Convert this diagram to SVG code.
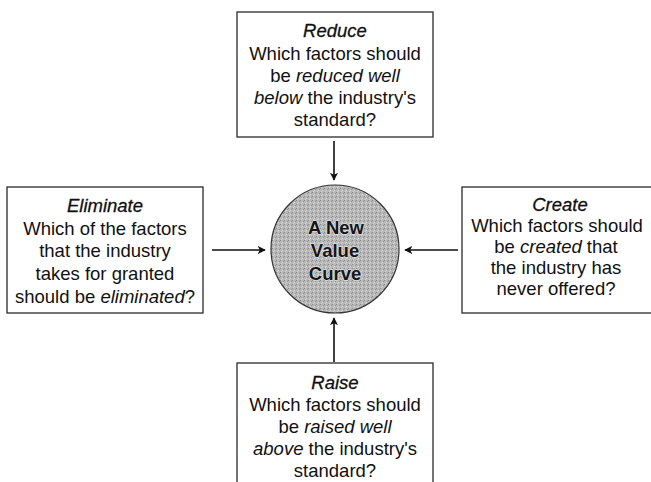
<svg xmlns="http://www.w3.org/2000/svg" width="651" height="482" viewBox="0 0 651 482">
  <style>
    .box { fill: #ffffff; stroke: #2a2a2a; stroke-width: 1.3; }
    .t { font-family: "Liberation Sans", Arial, sans-serif; font-size: 18.5px; fill: #111; text-anchor: middle; }
    .title { font-style: italic; stroke: #111; stroke-width: 0.3; }
    .i { font-style: italic; }
    .ct { font-family: "Liberation Sans", Arial, sans-serif; font-size: 18.5px; font-weight: bold; fill: #151515; text-anchor: middle; stroke: #dcdcdc; stroke-width: 1.6; paint-order: stroke; stroke-linejoin: round; }
    .conn { stroke: #111; stroke-width: 1.6; fill: none; marker-end: url(#ah); }
  </style>
  <defs>
    <marker id="ah" viewBox="0 0 10 10" refX="9" refY="5" markerWidth="8" markerHeight="8" markerUnits="userSpaceOnUse" orient="auto">
      <path d="M0,0 L10,5 L0,10 L2.5,5 Z" fill="#111"/>
    </marker>
    <pattern id="stip" width="4" height="4" patternUnits="userSpaceOnUse">
      <rect width="4" height="4" fill="#b8b8b8"/>
      <rect x="0" y="0" width="1" height="1" fill="#8a8a8a"/>
      <rect x="2" y="2" width="1" height="1" fill="#dadada"/>
      <rect x="3" y="1" width="1" height="1" fill="#959595"/>
      <rect x="1" y="3" width="1" height="1" fill="#d2d2d2"/>
    </pattern>
  </defs>
  <rect width="651" height="482" fill="#ffffff"/>

  <g id="connectors">
    <line class="conn" x1="334" y1="141" x2="334" y2="180"/>
    <line class="conn" x1="212" y1="250" x2="265" y2="250"/>
    <line class="conn" x1="458" y1="250" x2="405" y2="250"/>
    <line class="conn" x1="334" y1="362" x2="334" y2="318"/>
  </g>

  <g id="center">
    <circle cx="335" cy="249" r="64" fill="url(#stip)" stroke="#333" stroke-width="1.2"/>
    <text class="ct" x="336" y="234">A New</text>
    <text class="ct" x="335" y="257">Value</text>
    <text class="ct" x="335" y="280">Curve</text>
  </g>

  <g id="reduce">
    <rect class="box" x="237" y="12" width="196" height="125"/>
    <text class="t title" x="335" y="37">Reduce</text>
    <text class="t" x="335" y="60">Which factors should</text>
    <text class="t" x="335" y="82">be <tspan class="i">reduced well</tspan></text>
    <text class="t" x="335" y="104"><tspan class="i">below</tspan> the industry's</text>
    <text class="t" x="335" y="126">standard?</text>
  </g>

  <g id="eliminate">
    <rect class="box" x="7" y="187" width="196" height="126"/>
    <text class="t title" x="105" y="212">Eliminate</text>
    <text class="t" x="105" y="235">Which of the factors</text>
    <text class="t" x="105" y="257">that the industry</text>
    <text class="t" x="105" y="280">takes for granted</text>
    <text class="t" x="105" y="303">should be <tspan class="i">eliminated</tspan>?</text>
  </g>

  <g id="create">
    <rect class="box" x="462" y="187" width="196" height="126"/>
    <text class="t title" x="560" y="211">Create</text>
    <text class="t" x="557" y="232">Which factors should</text>
    <text class="t" x="556" y="253">be <tspan class="i">created</tspan> that</text>
    <text class="t" x="556" y="274">the industry has</text>
    <text class="t" x="556" y="295">never offered?</text>
  </g>

  <g id="raise">
    <rect class="box" x="237" y="363" width="196" height="130"/>
    <text class="t title" x="335" y="389">Raise</text>
    <text class="t" x="335" y="411">Which factors should</text>
    <text class="t" x="335" y="433">be <tspan class="i">raised well</tspan></text>
    <text class="t" x="335" y="455"><tspan class="i">above</tspan> the industry's</text>
    <text class="t" x="335" y="477">standard?</text>
  </g>
</svg>
